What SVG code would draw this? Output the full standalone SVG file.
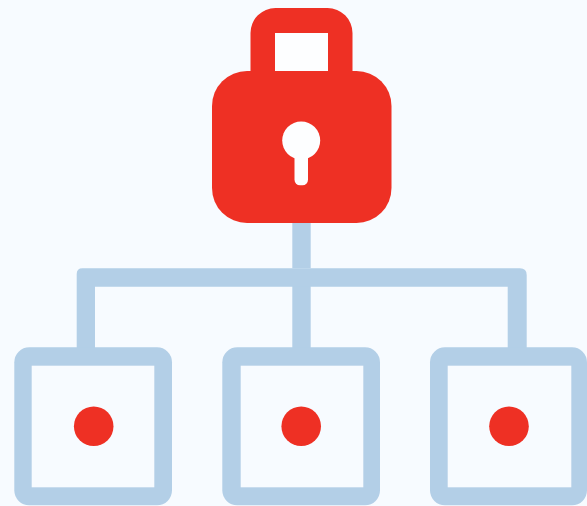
<svg xmlns="http://www.w3.org/2000/svg" width="587" height="506" viewBox="0 0 587 506">
<style>
.wire{fill:#b3cfe7}
.outer{fill:#b3cfe7}
.inner{fill:#f7fbff}
.red{fill:#ee3024}
.hole{fill:#fdfeff}
</style>
<rect width="587" height="506" fill="#f7fbff"/>
<g id="connectors">
<path class="wire" d="M292.300 220H310.700V268.300H292.300Z"/>
<path class="wire" d="M292.300 280H310.700V350H292.300Z"/>
<path class="wire" d="M76.700 350V274Q76.700 268.300 82.500 268.300H520Q526.700 268.300 526.700 275V350H507.700V286.700H95V350Z"/>
</g>
<g id="lock">
<path class="red" fill-rule="evenodd" d="M250.500 75V33A25 25 0 0 1 275.500 8H327.500A25 25 0 0 1 352.500 33V75ZM275 33V71H328V33Z"/>
<rect x="275" y="33" width="53" height="38" class="hole"/>
<rect class="red" x="212" y="71" width="179.500" height="152" rx="35" ry="35"/>
<circle class="hole" cx="301.200" cy="140.500" r="19"/>
<rect class="hole" x="294.500" y="150" width="13.500" height="35.300" rx="5.500"/>
</g>
<g id="node-1">
<rect class="outer" x="14.300" y="347.300" width="157.700" height="158" rx="15"/>
<rect class="inner" x="31.700" y="365.700" width="122.600" height="121.600"/>
<circle class="red" cx="93.700" cy="426.300" r="19.800"/>
</g>
<g id="node-2">
<rect class="outer" x="222.300" y="347.300" width="157.700" height="158" rx="15"/>
<rect class="inner" x="240.700" y="365.700" width="122.600" height="121.600"/>
<circle class="red" cx="301.200" cy="426.300" r="19.800"/>
</g>
<g id="node-3">
<rect class="outer" x="430" y="347.300" width="157" height="158" rx="15"/>
<rect class="inner" x="447.700" y="365.700" width="123.600" height="121.600"/>
<circle class="red" cx="509" cy="426.300" r="19.800"/>
</g>
</svg>
